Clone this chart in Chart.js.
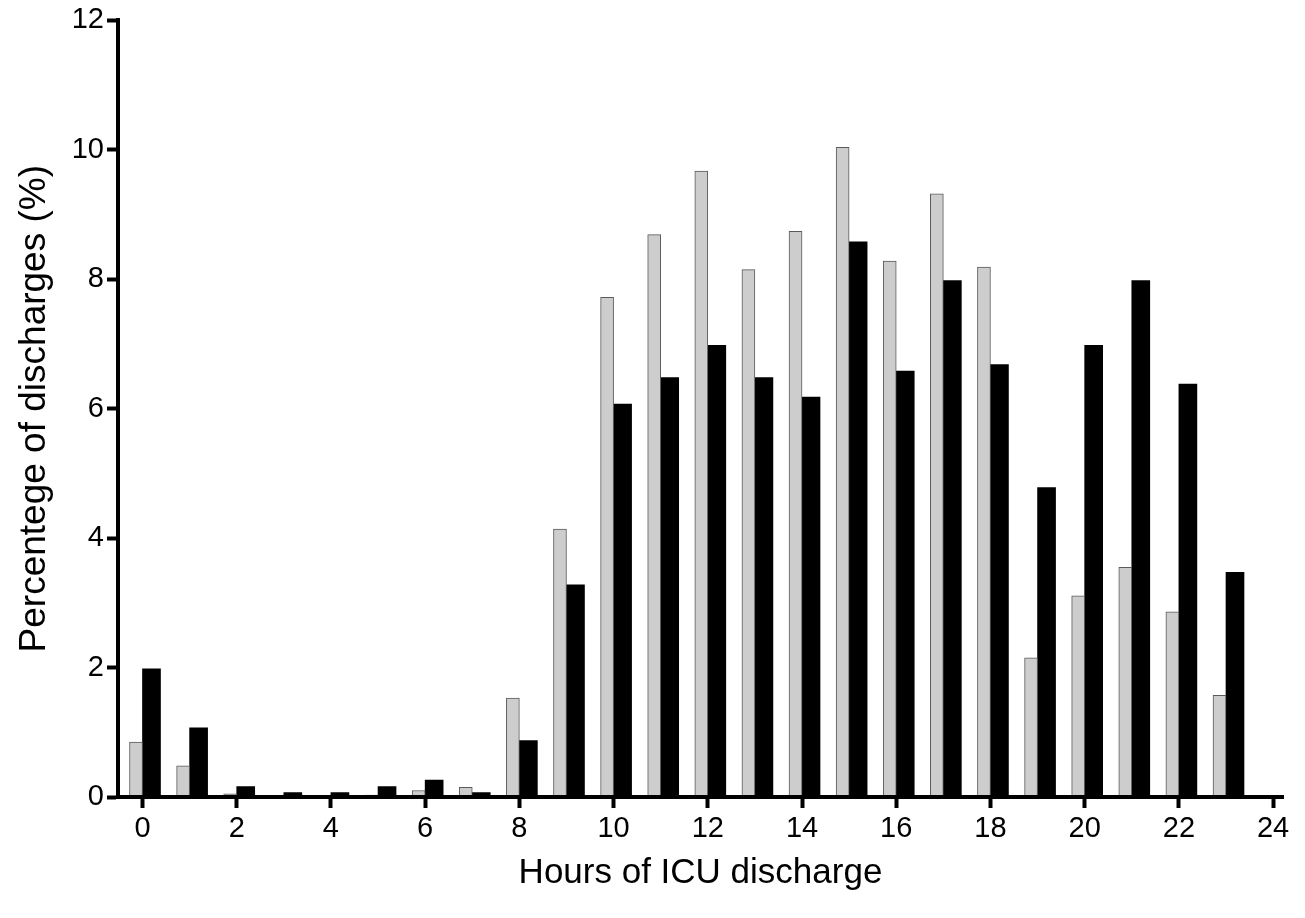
<!DOCTYPE html>
<html>
<head>
<meta charset="utf-8">
<title>Hours of ICU discharge</title>
<script src="https://cdn.jsdelivr.net/npm/chart.js@4/dist/chart.umd.min.js"></script>
<style>
  html, body { margin: 0; padding: 0; background: #fff; }
  #wrap { width: 1305px; height: 918px; }
</style>
</head>
<body>
<div id="wrap"><canvas id="dischargeChart" width="1305" height="918"></canvas></div>
<script>
// hour of the day (bar group position)
const hours = [0, 1, 2, 3, 4, 5, 6, 7, 8, 9, 10, 11, 12, 13, 14, 15, 16, 17, 18, 19, 20, 21, 22, 23];

// percentage of discharges, light grey bars
const greyValues = [0.85, 0.48, 0.05, 0, 0.02, 0.03, 0.1, 0.15, 1.53, 4.14, 7.72, 8.69,
  9.67, 8.15, 8.74, 10.04, 8.28, 9.32, 8.19, 2.15, 3.11, 3.55, 2.86, 1.57];

// percentage of discharges, black bars
const blackValues = [1.98, 1.07, 0.16, 0.07, 0.07, 0.16, 0.26, 0.07, 0.87, 3.28, 6.07, 6.48,
  6.98, 6.48, 6.18, 8.58, 6.58, 7.98, 6.68, 4.78, 6.98, 7.98, 6.38, 3.47];

const xTicks = [0, 2, 4, 6, 8, 10, 12, 14, 16, 18, 20, 22, 24];
const yTicks = [0, 2, 4, 6, 8, 10, 12];

const font = "'Liberation Sans', Arial, Helvetica, sans-serif";

const ctx = document.getElementById("dischargeChart").getContext("2d");

new Chart(ctx, {
  type: "bar",
  data: {
    datasets: [
      {
        label: "Group 1",
        data: hours.map((h, i) => ({ x: h, y: greyValues[i] })),
        backgroundColor: "#cdcdcd",
        borderColor: "#5a5a5a",
        borderWidth: 1,
        barThickness: 13
      },
      {
        label: "Group 2",
        data: hours.map((h, i) => ({ x: h, y: blackValues[i] })),
        backgroundColor: "#000000",
        borderColor: "#000000",
        borderWidth: 0,
        barThickness: 18
      }
    ]
  },
  options: {
    responsive: false,
    animation: false,
    devicePixelRatio: 1,
    layout: { padding: { top: 20, right: 22, left: 0, bottom: 0 } },
    plugins: {
      legend: { display: false },
      tooltip: { enabled: false }
    },
    scales: {
      x: {
        type: "linear",
        offset: false,
        min: -0.52,
        max: 24.21,
        afterBuildTicks: s => { s.ticks = xTicks.map(v => ({ value: v })); },
        afterFit: s => { s.height = 121; },
        grid: {
          offset: false,
          drawOnChartArea: false,
          drawTicks: true,
          tickLength: 11,
          tickWidth: 4,
          tickColor: "#000"
        },
        border: { display: true, color: "#000", width: 4, z: 1 },
        ticks: {
          color: "#000",
          font: { family: font, size: 29 },
          padding: 4,
          maxRotation: 0,
          autoSkip: false
        },
        title: {
          display: true,
          text: "Hours of ICU discharge",
          color: "#000",
          font: { family: font, size: 35, lineHeight: 1 },
          padding: { top: 0, bottom: 27 }
        }
      },
      y: {
        type: "linear",
        min: 0,
        max: 12,
        afterBuildTicks: s => { s.ticks = yTicks.map(v => ({ value: v })); },
        afterFit: s => { s.width = 118; },
        grid: {
          drawOnChartArea: false,
          drawTicks: true,
          tickLength: 11,
          tickWidth: 4,
          tickColor: "#000"
        },
        border: { display: true, color: "#000", width: 4, z: 1 },
        ticks: {
          color: "#000",
          font: { family: font, size: 29 },
          padding: 3
        },
        title: {
          display: true,
          text: "Percentege of discharges (%)",
          color: "#000",
          font: { family: font, size: 37, lineHeight: 1 },
          padding: { top: 16, bottom: 0 }
        }
      }
    }
  }
});
</script>
</body>
</html>
